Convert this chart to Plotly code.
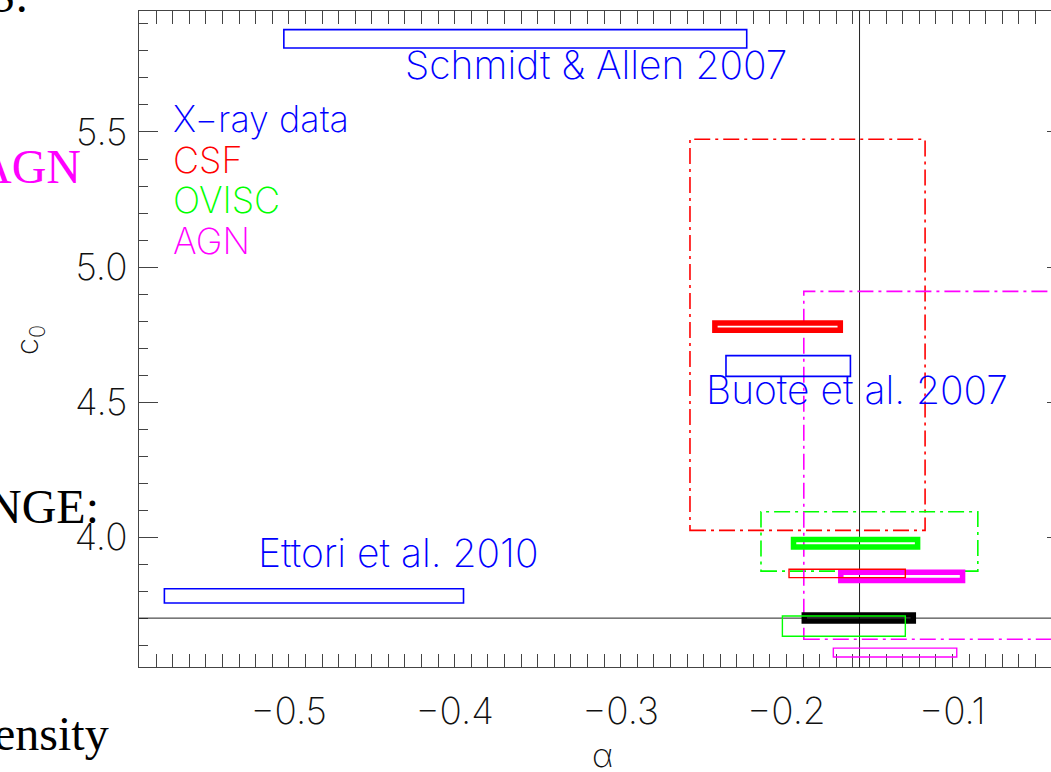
import plotly.graph_objects as go

# ---- concentration-mass relation parameters: c(M) = c0 * M^alpha ----
# X-ray measurements (alpha range, c0 range) and their references
xray_alpha_lo = [-0.503, -0.2365, -0.575]
xray_alpha_hi = [-0.224, -0.1615, -0.3947]
xray_c0_lo = [5.811, 4.595, 3.756]
xray_c0_hi = [5.879, 4.672, 3.809]
xray_refs = ["Schmidt & Allen 2007", "Buote et al. 2007", "Ettori et al. 2010"]

# simulation runs
models = ["CSF", "OVISC", "AGN"]
# thick boxes
thick_alpha_lo = [-0.2432, -0.1958, -0.1673]
thick_alpha_hi = [-0.1676, -0.1210, -0.0939]
thick_c0_lo = [4.766, 3.963, 3.839]
thick_c0_hi = [4.793, 3.991, 3.870]
# thin boxes
thin_alpha_lo = [-0.1985, -0.2025, -0.1718]
thin_alpha_hi = [-0.1284, -0.1284, -0.0974]
thin_c0_lo = [3.850, 3.633, 3.556]
thin_c0_hi = [3.881, 3.708, 3.589]
# dash-dotted boxes
wide_alpha_lo = [-0.2582, -0.2154, -0.1896]
wide_alpha_hi = [-0.1165, -0.0847, -0.0200]
wide_c0_lo = [4.025, 3.874, 3.622]
wide_c0_hi = [5.473, 4.094, 4.910]

# reference (black) box and cross-hair
ref_alpha = [-0.1893, -0.1236]
ref_c0 = [3.689, 3.712]
alpha_fid = -0.156
c0_fid = 3.70

# y tick values repeated on the right frame
right_ticks = [4.0, 4.5, 5.0, 5.5]

# ---- style ----
BLUE = "#0000ff"
model_colors = {"CSF": "#ff0000", "OVISC": "#00ff00", "AGN": "#ff00ff"}
AXIS = "#444444"
FONT = "Inter, DejaVu Sans"
WT = 200
SERIF = "Liberation Serif"
W, H = 1051, 772
ML, MT, MB = 139, 11, 105
PW, PH = W - ML, H - MT - MB
XR = [-0.5903, -0.0406]
YR = [3.519, 5.948]


def px_x(p):
    return (p - ML) / PW


def px_y(p):
    return (H - MB - p) / PH


fig = go.Figure()
shapes = []

# cross-hair through the fiducial values
shapes.append(dict(type="line", xref="x", yref="paper", x0=alpha_fid, x1=alpha_fid,
                   y0=0, y1=1, line=dict(color="#222222", width=1)))
shapes.append(dict(type="line", xref="paper", yref="y", x0=0, x1=1,
                   y0=c0_fid, y1=c0_fid, line=dict(color="#222222", width=1)))

# dash-dotted boxes
for i, m in enumerate(models):
    shapes.append(dict(type="rect", xref="x", yref="y",
                       x0=wide_alpha_lo[i], x1=wide_alpha_hi[i],
                       y0=wide_c0_lo[i], y1=wide_c0_hi[i],
                       line=dict(color=model_colors[m], width=1.6, dash="16px,5px,3px,5px")))

# X-ray boxes
for i in range(len(xray_refs)):
    shapes.append(dict(type="rect", xref="x", yref="y",
                       x0=xray_alpha_lo[i], x1=xray_alpha_hi[i],
                       y0=xray_c0_lo[i], y1=xray_c0_hi[i],
                       line=dict(color=BLUE, width=1.6)))

# thick boxes
for i, m in enumerate(models):
    shapes.append(dict(type="rect", xref="x", yref="y",
                       x0=thick_alpha_lo[i], x1=thick_alpha_hi[i],
                       y0=thick_c0_lo[i], y1=thick_c0_hi[i],
                       line=dict(color=model_colors[m], width=5.5)))
shapes.append(dict(type="rect", xref="x", yref="y",
                   x0=ref_alpha[0], x1=ref_alpha[1], y0=ref_c0[0], y1=ref_c0[1],
                   line=dict(color="#000000", width=5.5)))

# thin boxes
for i, m in enumerate(models):
    shapes.append(dict(type="rect", xref="x", yref="y",
                       x0=thin_alpha_lo[i], x1=thin_alpha_hi[i],
                       y0=thin_c0_lo[i], y1=thin_c0_hi[i],
                       line=dict(color=model_colors[m], width=1.4)))

# placeholder trace so the right-hand tick axis exists
fig.add_trace(go.Scatter(x=[None], y=[None], yaxis="y2", showlegend=False, hoverinfo="skip"))

annotations = []
lab_font = dict(family=FONT, size=39, color=BLUE, weight=WT)
# reference labels placed next to their boxes
label_pos = [(px_x(403), px_y(65)), (px_x(704), px_y(389.5)), (px_x(256), px_y(552))]
for (lx, ly), ref in zip(label_pos, xray_refs):
    annotations.append(dict(text=ref, xref="paper", yref="paper", x=lx, y=ly,
                            xanchor="left", yanchor="middle", showarrow=False,
                            font=lab_font))

# colour key
key_items = [("X\u2212ray data", BLUE)] + [(m, model_colors[m]) for m in models]
for k, (txt, col) in enumerate(key_items):
    annotations.append(dict(text=txt, xref="paper", yref="paper", x=px_x(171),
                            y=px_y(119 + 40.7 * k), xanchor="left", yanchor="middle",
                            showarrow=False,
                            font=dict(family=FONT, size=36, color=col, weight=WT)))

# axis titles
annotations.append(dict(text="\u03b1", xref="paper", yref="paper", x=px_x(602), y=px_y(755),
                        xanchor="center", yanchor="middle", showarrow=False,
                        font=dict(family=FONT, size=33, color="#111111", weight=WT)))
annotations.append(dict(text="c<sub>0</sub>", xref="paper", yref="paper", x=px_x(29), y=px_y(340),
                        xanchor="center", yanchor="middle", showarrow=False, textangle=-90,
                        font=dict(family=FONT, size=31, color="#111111", weight=WT)))

# surrounding page text
page_text = [("S.", "#000000", 30, 12), ("AGN", "#ff00ff", 83, 183),
             ("NGE:", "#000000", 101, 523), ("ensity", "#000000", 111, 750)]
for txt, col, right, base in page_text:
    annotations.append(dict(text=txt, xref="paper", yref="paper", x=px_x(right),
                            y=px_y(base - 16.2), xanchor="right", yanchor="middle",
                            showarrow=False, font=dict(family=SERIF, size=48, color=col)))

tick_font = dict(family=FONT, size=37, color="#111111", weight=WT)
fig.update_layout(
    width=W, height=H,
    margin=dict(l=ML, r=0, t=MT, b=MB, pad=0),
    paper_bgcolor="white", plot_bgcolor="white",
    shapes=shapes, annotations=annotations,
    showlegend=False,
    xaxis=dict(range=XR, showgrid=False, zeroline=False, showline=True, linecolor=AXIS,
               linewidth=1.2, mirror="allticks", ticks="inside", ticklen=13, tickwidth=1.2,
               tickcolor=AXIS, tick0=0, dtick=0.1, tickformat=".1f",
               ticklabelstandoff=11, tickfont=tick_font,
               minor=dict(ticks="inside", ticklen=6, dtick=0.01, tick0=0,
                          tickcolor=AXIS, tickwidth=1.2, showgrid=False)),
    yaxis=dict(range=YR, showgrid=False, zeroline=False, showline=True, linecolor=AXIS,
               linewidth=1.2, mirror=False, ticks="inside", ticklen=19, tickwidth=1.2,
               tickcolor=AXIS, tick0=0, dtick=0.5, tickformat=".1f",
               ticklabelstandoff=3, tickfont=tick_font,
               minor=dict(ticks="inside", ticklen=9, dtick=0.1, tick0=0,
                          tickcolor=AXIS, tickwidth=1.2, showgrid=False)),
    yaxis2=dict(range=YR, overlaying="y", side="right", anchor="x", showgrid=False,
                zeroline=False, showline=False, ticks="inside", ticklen=4, tickwidth=1.2,
                tickcolor=AXIS, tickmode="array", tickvals=right_ticks,
                showticklabels=False),
)

fig.write_html("out.html")
